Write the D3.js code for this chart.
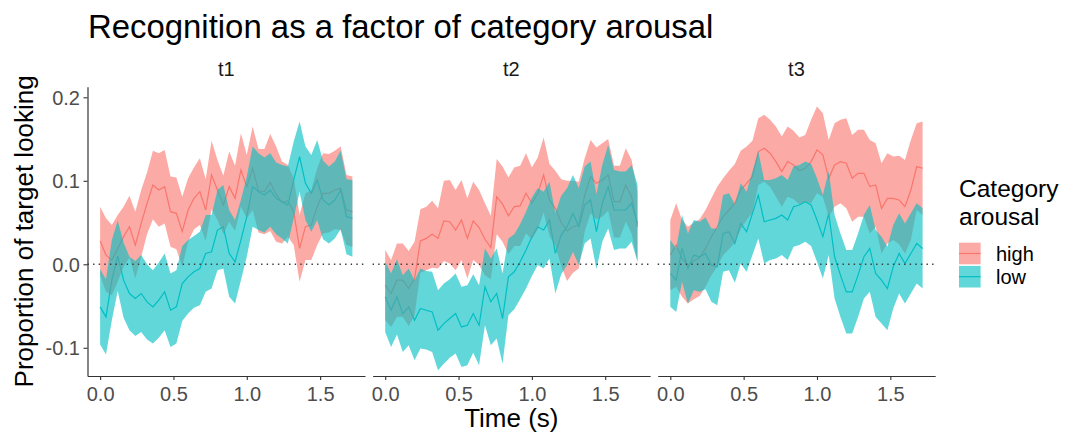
<!DOCTYPE html>
<html>
<head>
<meta charset="utf-8">
<script src="https://cdn.jsdelivr.net/npm/d3@7"></script>
<style>
  html, body { margin: 0; padding: 0; background: #ffffff; }
  svg { display: block; font-family: "Liberation Sans", Arial, Helvetica, sans-serif; }
</style>
</head>
<body>
<svg id="chart" width="1074" height="435"></svg>
<script>
// ---- data -------------------------------------------------------------
const timePoints = [0, 0.04, 0.08, 0.12, 0.16, 0.2, 0.24, 0.28, 0.32, 0.36, 0.4, 0.44,
  0.48, 0.52, 0.56, 0.6, 0.64, 0.68, 0.72, 0.76, 0.8, 0.84, 0.88, 0.92, 0.96, 1.0,
  1.04, 1.08, 1.12, 1.16, 1.2, 1.24, 1.28, 1.32, 1.36, 1.4, 1.44, 1.48, 1.52, 1.56,
  1.6, 1.64, 1.68, 1.72];

const facets = ["t1", "t2", "t3"];
const groups = ["high", "low"];
const groupColors = ["#F8766D", "#00BFC4"];
const xTicks = [0, 0.5, 1.0, 1.5];
const yTicks = [-0.1, 0.0, 0.1, 0.2];

// t1
const t1HighMean = [0.028, 0.011, 0.005, 0.019, 0.033, 0.045, 0.023, 0.049, 0.073, 0.095,
  0.089, 0.093, 0.063, 0.061, 0.039, 0.065, 0.079, 0.087, 0.065, 0.107,
  0.089, 0.071, 0.093, 0.079, 0.113, 0.093, 0.115, 0.088, 0.087, 0.098,
  0.084, 0.074, 0.076, 0.063, 0.019, 0.045, 0.047, 0.069, 0.085, 0.085,
  0.089, 0.091, 0.065, 0.063];
const t1HighSe = [0.041, 0.044, 0.042, 0.040, 0.036, 0.037, 0.040, 0.040, 0.037, 0.041,
  0.044, 0.044, 0.042, 0.043, 0.042, 0.038, 0.037, 0.040, 0.037, 0.041,
  0.036, 0.035, 0.042, 0.039, 0.044, 0.038, 0.050, 0.050, 0.051, 0.058,
  0.057, 0.049, 0.043, 0.040, 0.040, 0.040, 0.042, 0.046, 0.048, 0.047,
  0.047, 0.050, 0.042, 0.042];
const t1LowMean = [-0.051, -0.063, -0.019, 0.010, -0.019, -0.035, -0.041, -0.035, -0.045, -0.051,
  -0.043, -0.033, -0.055, -0.051, -0.023, -0.015, -0.009, -0.005, 0.013, 0.015,
  0.041, 0.045, 0.013, 0.003, 0.029, 0.057, 0.093, 0.087, 0.083, 0.089,
  0.079, 0.075, 0.071, 0.101, 0.129, 0.097, 0.085, 0.101, 0.077, 0.071,
  0.077, 0.089, 0.057, 0.055];
const t1LowSe = [0.045, 0.045, 0.048, 0.042, 0.045, 0.044, 0.045, 0.046, 0.045, 0.044,
  0.045, 0.046, 0.044, 0.044, 0.045, 0.044, 0.043, 0.044, 0.046, 0.044,
  0.048, 0.050, 0.052, 0.050, 0.048, 0.048, 0.048, 0.046, 0.045, 0.044,
  0.043, 0.044, 0.046, 0.046, 0.042, 0.044, 0.046, 0.048, 0.047, 0.046,
  0.046, 0.047, 0.045, 0.046];

// t2
const t2HighMean = [-0.025, -0.035, -0.019, -0.019, -0.029, -0.017, 0.028, 0.031, 0.036, 0.031,
  0.052, 0.051, 0.041, 0.053, 0.031, 0.052, 0.044, 0.030, 0.020, 0.081,
  0.072, 0.058, 0.069, 0.070, 0.085, 0.073, 0.085, 0.107, 0.077, 0.067,
  0.050, 0.040, 0.045, 0.047, 0.083, 0.105, 0.097, 0.101, 0.107, 0.075,
  0.075, 0.095, 0.081, 0.045];
const t2HighSe = [0.042, 0.040, 0.044, 0.044, 0.045, 0.044, 0.038, 0.038, 0.040, 0.036,
  0.048, 0.050, 0.048, 0.048, 0.048, 0.047, 0.045, 0.043, 0.038, 0.045,
  0.045, 0.046, 0.047, 0.048, 0.048, 0.043, 0.043, 0.045, 0.043, 0.045,
  0.052, 0.060, 0.055, 0.052, 0.044, 0.044, 0.043, 0.044, 0.043, 0.043,
  0.043, 0.044, 0.044, 0.042];
const t2LowMean = [-0.039, -0.055, -0.039, -0.059, -0.051, -0.067, -0.053, -0.055, -0.057, -0.079,
  -0.071, -0.065, -0.059, -0.075, -0.073, -0.059, -0.073, -0.027, -0.045, -0.035,
  -0.065, -0.015, -0.009, 0.003, 0.017, 0.033, 0.045, 0.041, 0.053, 0.013,
  0.035, 0.045, 0.061, 0.045, 0.071, 0.077, 0.039, 0.073, 0.093, 0.065,
  0.065, 0.065, 0.073, 0.049];
const t2LowSe = [0.042, 0.044, 0.045, 0.046, 0.046, 0.048, 0.048, 0.047, 0.048, 0.048,
  0.048, 0.047, 0.048, 0.048, 0.048, 0.047, 0.048, 0.046, 0.052, 0.054,
  0.054, 0.046, 0.045, 0.045, 0.046, 0.047, 0.046, 0.046, 0.046, 0.048,
  0.047, 0.046, 0.046, 0.046, 0.046, 0.046, 0.045, 0.046, 0.050, 0.048,
  0.046, 0.046, 0.046, 0.046];

// t3
const t3HighMean = [0.011, 0.023, 0.007, -0.001, 0.004, 0.008, 0.019, 0.033, 0.045, 0.057,
  0.065, 0.073, 0.089, 0.097, 0.105, 0.135, 0.139, 0.133, 0.123, 0.111,
  0.123, 0.119, 0.112, 0.115, 0.123, 0.137, 0.131, 0.103, 0.119, 0.123,
  0.121, 0.103, 0.109, 0.109, 0.093, 0.095, 0.067, 0.079, 0.079, 0.077,
  0.069, 0.089, 0.117, 0.115];
const t3HighSe = [0.042, 0.050, 0.046, 0.046, 0.046, 0.046, 0.046, 0.046, 0.048, 0.046,
  0.047, 0.047, 0.047, 0.044, 0.043, 0.040, 0.040, 0.040, 0.042, 0.042,
  0.042, 0.041, 0.040, 0.040, 0.050, 0.052, 0.050, 0.046, 0.050, 0.050,
  0.054, 0.052, 0.052, 0.052, 0.056, 0.050, 0.054, 0.054, 0.050, 0.053,
  0.056, 0.060, 0.052, 0.056];
const t3LowMean = [-0.011, -0.019, 0.019, -0.005, 0.011, 0.009, 0.013, -0.001, -0.003, 0.037,
  0.039, 0.025, 0.049, 0.039, 0.061, 0.083, 0.051, 0.053, 0.055, 0.059,
  0.053, 0.069, 0.071, 0.075, 0.071, 0.053, 0.033, 0.061, 0.009, -0.013,
  -0.033, -0.033, -0.013, 0.009, 0.019, -0.011, -0.019, -0.029, -0.003, 0.013,
  0.001, 0.013, 0.025, 0.019];
const t3LowSe = [0.040, 0.038, 0.040, 0.042, 0.042, 0.042, 0.043, 0.044, 0.046, 0.046,
  0.046, 0.047, 0.048, 0.048, 0.050, 0.052, 0.050, 0.048, 0.048, 0.048,
  0.048, 0.048, 0.048, 0.048, 0.049, 0.050, 0.050, 0.050, 0.050, 0.050,
  0.050, 0.050, 0.050, 0.050, 0.052, 0.052, 0.052, 0.050, 0.050, 0.048,
  0.048, 0.048, 0.048, 0.048];

// per-facet table built from the arrays above
const facetSeries = [
  { facet: facets[0], series: [{ group: groups[0], mean: t1HighMean, se: t1HighSe }, { group: groups[1], mean: t1LowMean, se: t1LowSe }] },
  { facet: facets[1], series: [{ group: groups[0], mean: t2HighMean, se: t2HighSe }, { group: groups[1], mean: t2LowMean, se: t2LowSe }] },
  { facet: facets[2], series: [{ group: groups[0], mean: t3HighMean, se: t3HighSe }, { group: groups[1], mean: t3LowMean, se: t3LowSe }] }
];

// ---- layout -----------------------------------------------------------
const svg = d3.select("#chart");
const panelW = 277.5;
const panelGap = 7.6;
const panelLeft0 = 87.5;
const panelTop = 86.7;
const panelBottom = 376;
const ribbonAlpha = 0.62;
const inkAxis = "#333333";
const inkTickText = "#4D4D4D";

const color = d3.scaleOrdinal().domain(groups).range(groupColors);
const x = d3.scaleLinear().domain([-0.086, 1.806]).range([0, panelW]);
const y = d3.scaleLinear().domain([-0.1338, 0.2127]).range([panelBottom, panelTop]);
const fmt = d => d.toFixed(1);

// title
svg.append("text")
  .attr("x", 88).attr("y", 38)
  .attr("font-size", 32.9).attr("fill", "#000")
  .text("Recognition as a factor of category arousal");

facetSeries.forEach((fd, pi) => {
  const left = panelLeft0 + pi * (panelW + panelGap);
  const g = svg.append("g").attr("transform", `translate(${left},0)`);

  const line = d3.line()
    .x((d, i) => x(timePoints[i]))
    .y(d => y(d));
  const area = d3.area()
    .x((d, i) => x(timePoints[i]))
    .y0(d => y(d.mean - d.se))
    .y1(d => y(d.mean + d.se));

  // mean lines sit under the ribbons
  fd.series.forEach(s => {
    g.append("path")
      .attr("d", line(s.mean))
      .attr("fill", "none")
      .attr("stroke", color(s.group))
      .attr("stroke-width", 1.2);
  });
  fd.series.forEach(s => {
    const pts = s.mean.map((m, i) => ({ mean: m, se: s.se[i] }));
    g.append("path")
      .attr("d", area(pts))
      .attr("fill", color(s.group))
      .attr("fill-opacity", ribbonAlpha)
      .attr("stroke", "none");
  });

  // zero reference
  g.append("line")
    .attr("x1", 0).attr("x2", panelW)
    .attr("y1", y(0)).attr("y2", y(0))
    .attr("stroke", "#3a3a3a")
    .attr("stroke-width", 1.4)
    .attr("stroke-dasharray", "1.4 4.2");

  // strip label
  g.append("text")
    .attr("x", panelW / 2).attr("y", 76)
    .attr("text-anchor", "middle")
    .attr("font-size", 20).attr("fill", "#1A1A1A")
    .text(fd.facet);

  // x axis
  const xa = g.append("g")
    .attr("transform", `translate(0,${panelBottom})`)
    .call(d3.axisBottom(x).tickValues(xTicks).tickFormat(fmt).tickSize(4).tickSizeOuter(0));
  xa.select(".domain").attr("stroke", inkAxis).attr("stroke-width", 1.2);
  xa.selectAll(".tick line").attr("stroke", inkAxis).attr("stroke-width", 1.1);
  xa.selectAll(".tick text")
    .attr("y", 25).attr("dy", null)
    .attr("font-size", 20).attr("font-family", null)
    .attr("fill", inkTickText);

  // y axis only on the first panel
  if (pi === 0) {
    const ya = g.append("g")
      .call(d3.axisLeft(y).tickValues(yTicks).tickFormat(fmt).tickSize(4).tickSizeOuter(0).tickPadding(3.5));
    ya.select(".domain").attr("stroke", inkAxis).attr("stroke-width", 1.2);
    ya.selectAll(".tick line").attr("stroke", inkAxis).attr("stroke-width", 1.1);
    ya.selectAll(".tick text")
      .attr("dy", "0.36em")
      .attr("font-size", 20).attr("font-family", null)
      .attr("fill", inkTickText);
  }
});

// axis titles
const panelsRight = panelLeft0 + 3 * panelW + 2 * panelGap;
svg.append("text")
  .attr("x", (panelLeft0 + panelsRight) / 2).attr("y", 427)
  .attr("text-anchor", "middle")
  .attr("font-size", 26).attr("fill", "#000")
  .text("Time (s)");
svg.append("text")
  .attr("transform", `translate(33,${(panelTop + panelBottom) / 2}) rotate(-90)`)
  .attr("text-anchor", "middle")
  .attr("font-size", 26).attr("fill", "#000")
  .text("Proportion of target looking");

// legend
const legend = svg.append("g").attr("transform", "translate(959,0)");
legend.append("text")
  .attr("x", 0).attr("y", 196.5)
  .attr("font-size", 24.5).attr("fill", "#000")
  .text("Category");
legend.append("text")
  .attr("x", 0).attr("y", 224.5)
  .attr("font-size", 24.5).attr("fill", "#000")
  .text("arousal");

const keySize = 21.6;
const keyTops = [242.7, 265.9];
groups.forEach((grp, i) => {
  const k = legend.append("g").attr("transform", `translate(0,${keyTops[i]})`);
  k.append("line")
    .attr("x1", 0).attr("x2", keySize)
    .attr("y1", keySize / 2).attr("y2", keySize / 2)
    .attr("stroke", color(grp)).attr("stroke-width", 1.2);
  k.append("rect")
    .attr("width", keySize).attr("height", keySize)
    .attr("fill", color(grp)).attr("fill-opacity", ribbonAlpha);
  k.append("text")
    .attr("x", 37).attr("y", keySize / 2 + 7.3)
    .attr("font-size", 20).attr("fill", "#000")
    .text(grp);
});
</script>
</body>
</html>
